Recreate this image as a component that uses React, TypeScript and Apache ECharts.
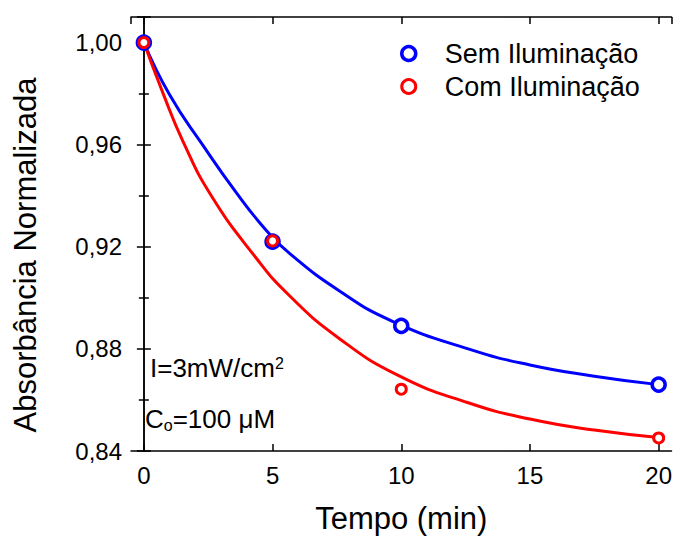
import React, { useEffect, useRef } from "react";
import * as echarts from "echarts";

const seriesNames = ["Sem Iluminação", "Com Iluminação"];
const timeMin = [0, 5, 10, 20];
const semValues = [1.0, 0.922, 0.889, 0.866];
const comValues = [1.0, 0.9223, 0.8642, 0.8451];

// fitted curves: [time, absorbance]
const semFitX = [0, 1, 2.29, 3.59, 4.75, 5.66, 7.6, 9.66, 12.6, 15, 17.5, 20];
const semFitY = [1.0, 0.9795, 0.9598, 0.9412, 0.9265, 0.9174, 0.9027, 0.8908, 0.8800, 0.8737, 0.8693, 0.866];
const comFitX = [0, 0.75, 1.51, 2.62, 4.37, 5.66, 7.6, 9.92, 12.6, 15, 17.5, 20];
const comFitY = [1.0, 0.9800, 0.9615, 0.9400, 0.9155, 0.9008, 0.8840, 0.8694, 0.8589, 0.8525, 0.8482, 0.8453];

const xTicks = [0, 5, 10, 15, 20];
const yTicks = [0.84, 0.88, 0.92, 0.96, 1.0];

const annotation1 = "I=3mW/cm{sup|2}";
const annotation2 = "C{sub|o}=100 μM";

const FONT = "'Liberation Sans', Arial, sans-serif";
const BLUE = "#0000ff";
const RED = "#ff0000";

export default function App() {
  const ref = useRef<HTMLDivElement>(null);
  useEffect(() => {
    if (!ref.current) return;
    const chart = echarts.init(ref.current, undefined, { renderer: "svg" });
    const axisLine = { show: true, lineStyle: { color: "#000", width: 1.5 } };
    const tick = { show: true, inside: true, length: 7, lineStyle: { color: "#000", width: 1.5 } };
    const minorTick = { show: true, splitNumber: 2, length: 5, lineStyle: { color: "#000", width: 1.5 } };
    const zip = (xs: number[], ys: number[]) => xs.map((x, i) => [x, ys[i]]);
    chart.setOption({
      animation: false,
      textStyle: { fontFamily: FONT },
      grid: { left: 131, right: 2, top: 17, bottom: 85 },
      legend: {
        data: seriesNames.map((n, i) => ({
          name: n,
          icon: "circle",
          itemStyle: { color: "#fff", borderColor: i === 0 ? BLUE : RED, borderWidth: i === 0 ? 3.5 : 3, opacity: 1 },
        })),
        orient: "vertical",
        left: 400,
        top: 40,
        itemWidth: 14,
        itemHeight: 14,
        itemGap: 6,
        padding: 0,
        textStyle: { fontSize: 27, color: "#000", fontFamily: FONT, padding: [0, 0, 0, 24] },
      },
      xAxis: [
        {
          type: "value",
          min: -0.5,
          max: 20.5,
          position: "bottom",
          axisLine,
          axisTick: tick,
          splitLine: { show: false },
          axisLabel: {
            fontSize: 24,
            color: "#000",
            margin: 12,
            showMinLabel: false,
            showMaxLabel: false,
            formatter: (v: number) => (xTicks.includes(v) ? String(v) : ""),
          },
          name: "Tempo (min)",
          nameLocation: "middle",
          nameGap: 52,
          nameTextStyle: { fontSize: 31, color: "#000" },
        },
        {
          type: "value",
          min: -0.5,
          max: 20.5,
          position: "top",
          axisLine,
          axisTick: tick,
          splitLine: { show: false },
          axisLabel: { show: false },
        },
      ],
      yAxis: [
        {
          type: "value",
          min: 0.84,
          max: 1.01,
          interval: 0.04,
          position: "left",
          axisLine,
          axisTick: tick,
          minorTick,
          splitLine: { show: false },
          minorSplitLine: { show: false },
          axisLabel: {
            fontSize: 24,
            color: "#000",
            margin: 9,
            showMaxLabel: false,
            formatter: (v: number) => {
              const hit = yTicks.find((t) => Math.abs(t - v) < 1e-6);
              return hit === undefined ? "" : hit.toFixed(2).replace(".", ",");
            },
          },
          name: "Absorbância Normalizada",
          nameLocation: "middle",
          nameGap: 90,
          nameTextStyle: { fontSize: 31, color: "#000", padding: [0, 42, 0, 0] },
        },
        {
          type: "value",
          min: 0.84,
          max: 1.01,
          interval: 0.04,
          position: "right",
          axisLine,
          axisTick: tick,
          minorTick,
          splitLine: { show: false },
          minorSplitLine: { show: false },
          axisLabel: { show: false },
        },
      ],
      series: [
        {
          type: "line",
          data: zip(semFitX, semFitY),
          smooth: 0.5,
          showSymbol: false,
          symbol: "none",
          lineStyle: { color: BLUE, width: 3 },
          z: 2,
          silent: true,
        },
        {
          type: "line",
          data: zip(comFitX, comFitY),
          smooth: 0.5,
          showSymbol: false,
          symbol: "none",
          lineStyle: { color: RED, width: 3 },
          z: 2,
          silent: true,
        },
        {
          name: seriesNames[0],
          type: "scatter",
          data: zip(timeMin, semValues),
          symbol: "circle",
          symbolSize: 13,
          itemStyle: { color: "#fff", borderColor: BLUE, borderWidth: 3.5, opacity: 1 },
          z: 3,
        },
        {
          name: seriesNames[1],
          type: "scatter",
          data: zip(timeMin, comValues),
          symbol: "circle",
          symbolSize: 10,
          itemStyle: { color: "#fff", borderColor: RED, borderWidth: 3, opacity: 1 },
          z: 4,
        },
      ],
      graphic: [
        {
          type: "text",
          left: 150,
          top: 355,
          style: {
            text: annotation1,
            fontSize: 26,
            fontFamily: FONT,
            fill: "#000",
            rich: {
              sup: { fontSize: 16, verticalAlign: "top", padding: [0, 0, 10, 0], fontFamily: FONT },
            },
          },
        },
        {
          type: "text",
          left: 145,
          top: 406,
          style: {
            text: annotation2,
            fontSize: 26,
            fontFamily: FONT,
            fill: "#000",
            rich: {
              sub: { fontSize: 16, verticalAlign: "bottom", padding: [12, 0, 0, 0], fontFamily: FONT },
            },
          },
        },
      ],
    });
    return () => chart.dispose();
  }, []);
  return (
    <div
      ref={ref}
      style={{ position: "fixed", left: 0, top: 0, width: 675, height: 539, background: "#fff" }}
    />
  );
}
